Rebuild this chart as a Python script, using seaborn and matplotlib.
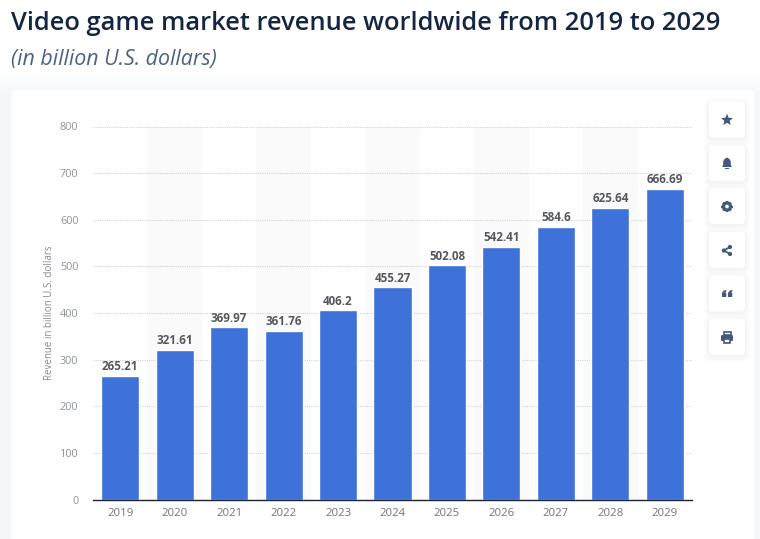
import numpy as np
import pandas as pd
import matplotlib
matplotlib.use("Agg")
import matplotlib.pyplot as plt
from matplotlib.patches import FancyBboxPatch, Rectangle, Circle, Polygon
import seaborn as sns

years = ["2019", "2020", "2021", "2022", "2023", "2024", "2025", "2026", "2027", "2028", "2029"]
revenue = [265.21, 321.61, 369.97, 361.76, 406.2, 455.27, 502.08, 542.41, 584.6, 625.64, 666.69]
value_labels = ["265.21", "321.61", "369.97", "361.76", "406.2", "455.27", "502.08", "542.41", "584.6", "625.64", "666.69"]
y_ticks = [0, 100, 200, 300, 400, 500, 600, 700, 800]

title = "Video game market revenue worldwide from 2019 to 2029"
subtitle = "(in billion U.S. dollars)"
y_label = "Revenue in billion U.S. dollars"

sns.set_theme(style="white")
plt.rcParams["font.family"] = ["Open Sans", "DejaVu Sans"]

W, H = 760, 539
fig = plt.figure(figsize=(W / 100, H / 100), dpi=100, facecolor="white")

# page layer in pixel coordinates
bg = fig.add_axes([0, 0, 1, 1], zorder=0)
bg.axis("off")
fade = np.clip((np.arange(H) - 70) / 22, 0, 1)[:, None, None]
page = np.ones((H, 1, 3)) * (1 - fade) + np.array([0.965, 0.972, 0.98]) * fade
bg.imshow(page, extent=(0, W, H, 0), aspect="auto", zorder=0)
bg.set_xlim(0, W)
bg.set_ylim(H, 0)
bg.add_patch(FancyBboxPatch((11, 89), 744, 480, boxstyle="round,pad=0,rounding_size=5",
                            fc="white", ec="#f3f4f7", lw=0.6, zorder=1))

fig.text(11 / W, 1 - 23 / H, title, fontsize=18.4, fontweight="semibold", color="#152642", va="center", ha="left")
fig.text(11 / W, 1 - 59 / H, subtitle, fontsize=15.4, fontstyle="italic", color="#4e6184", va="center", ha="left")

# side buttons
icon = "#45597c"
for cy in [119.5, 163, 206, 250, 293.5, 337]:
    for grow, a in [(5, 0.006), (4, 0.007), (3, 0.008), (2, 0.009), (1, 0.01)]:
        bg.add_patch(FancyBboxPatch((709 - grow, cy - 18 + 2 - grow), 36 + 2 * grow, 36 + 2 * grow,
                                    boxstyle="round,pad=0,rounding_size=6", fc="#203050", alpha=a, ec="none", zorder=2))
    bg.add_patch(FancyBboxPatch((709, cy - 18), 36, 36, boxstyle="round,pad=0,rounding_size=4",
                                fc="white", ec="none", zorder=3))

# star
ang = np.deg2rad(-90 + 36 * np.arange(10))
rad = np.where(np.arange(10) % 2 == 0, 6.2, 2.8)
bg.add_patch(Polygon(np.c_[727 + rad * np.cos(ang), 120 + rad * np.sin(ang)], fc=icon, ec="none", zorder=4))
# bell
bg.add_patch(Polygon([(722, 167), (723.2, 165), (723.2, 161.5), (724.5, 159), (727, 157.5), (729.5, 159),
                      (730.8, 161.5), (730.8, 165), (732, 167)], fc=icon, ec="none", zorder=4))
bg.add_patch(Rectangle((725.3, 167.6), 3.4, 1.3, fc=icon, ec="none", zorder=4))
# gear
bg.add_patch(Circle((727, 206.5), 3.5, fc="none", ec=icon, lw=2.3, zorder=4))
for a in np.deg2rad(np.arange(0, 360, 45)):
    bg.plot([727 + 4 * np.cos(a), 727 + 5.6 * np.cos(a)], [206.5 + 4 * np.sin(a), 206.5 + 5.6 * np.sin(a)],
            color=icon, lw=1.7, solid_capstyle="butt", zorder=4)
# share
for p in [(723.8, 250.5), (730, 247), (730, 254)]:
    bg.add_patch(Circle(p, 2.1, fc=icon, ec="none", zorder=4))
bg.plot([730, 723.8, 730], [247, 250.5, 254], color=icon, lw=1.3, zorder=4)
# quote
for x0 in [722, 728]:
    bg.add_patch(Polygon([(x0, 297), (x0, 293), (x0 + 1.8, 290.5), (x0 + 4.3, 290), (x0 + 4.3, 291.8),
                          (x0 + 3, 293), (x0 + 4.3, 293), (x0 + 4.3, 297)], fc=icon, ec="none", zorder=4))
# printer
bg.add_patch(FancyBboxPatch((721, 335), 12, 6, boxstyle="round,pad=0,rounding_size=1", fc=icon, ec="none", zorder=4))
bg.add_patch(Rectangle((723.5, 332.2), 7, 3, fc="none", ec=icon, lw=1.2, zorder=4))
bg.add_patch(Rectangle((723.7, 338.5), 6.6, 4, fc="white", ec=icon, lw=1.2, zorder=5))

# chart
left, right, top, bottom = 93, 692, 126.5, 499.5
ax = fig.add_axes([left / W, 1 - bottom / H, (right - left) / W, (bottom - top) / H], zorder=1)
ax.patch.set_alpha(0)
df = pd.DataFrame({"year": years, "revenue": revenue})
sns.barplot(data=df, x="year", y="revenue", color="#3e72d8", saturation=1, width=0.70, ax=ax, zorder=3)
ax.set_xlim(-0.5, len(years) - 0.5)
ax.set_ylim(y_ticks[0], y_ticks[-1])
for i in range(1, len(years), 2):
    ax.axvspan(i - 0.5, i + 0.5, color="#fafafa", lw=0, zorder=0)
ax.set_yticks(y_ticks)
ax.yaxis.grid(True, color="#d2d2d2", lw=0.8, ls=(0, (1, 1)), zorder=1)
ax.xaxis.grid(False)
ax.set_axisbelow(True)
for s in ["top", "left", "right"]:
    ax.spines[s].set_visible(False)
ax.spines["bottom"].set_color("#1c2433")
ax.spines["bottom"].set_linewidth(1.0)
ax.spines["bottom"].set_zorder(5)
ax.tick_params(axis="x", length=0, pad=6, labelsize=8.2, labelcolor="#70747b")
ax.tick_params(axis="y", length=0, pad=10.5, labelsize=7.8, labelcolor="#8e9299")
ax.set_xlabel("")
ax.set_ylabel(y_label, fontsize=7, color="#85898f", labelpad=3.8)
for i, (v, t) in enumerate(zip(revenue, value_labels)):
    ax.annotate(t, (i, v), xytext=(0, 1.8), textcoords="offset points", ha="center", va="bottom",
                fontsize=8.4, fontweight="bold", color="#55585d", zorder=6)

fig.savefig("out.png", dpi=100, facecolor="white")
